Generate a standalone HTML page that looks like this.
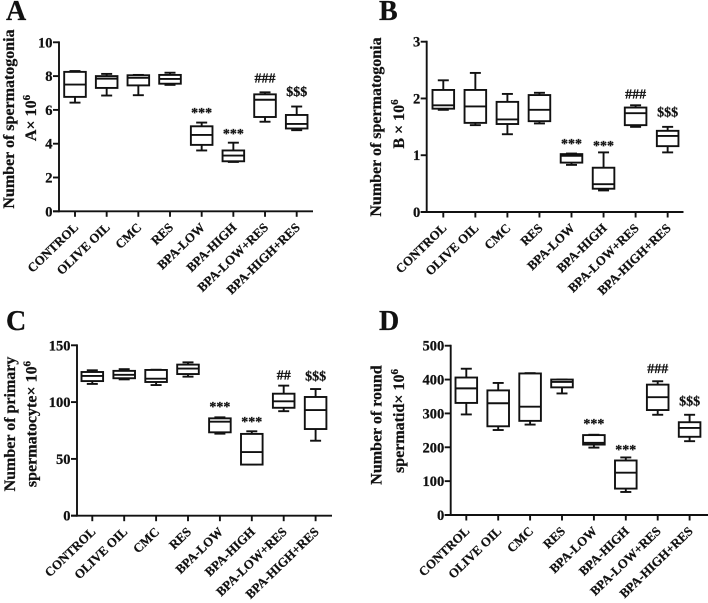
<!DOCTYPE html>
<html lang="en">
<head>
<meta charset="utf-8">
<title>Spermatogenic cell counts</title>
<style>
html,body{margin:0;padding:0;background:#fff;width:708px;height:603px;overflow:hidden}
svg{display:block;filter:blur(0.35px)}
text{font-family:"Liberation Serif",serif;font-weight:bold;fill:#111;stroke:#111;stroke-width:0.25px}
</style>
</head>
<body>
<svg id="figure" xmlns="http://www.w3.org/2000/svg" width="708" height="603" viewBox="0 0 708 603"></svg>
<script>
const categories = ['CONTROL','OLIVE OIL','CMC','RES','BPA-LOW','BPA-HIGH','BPA-LOW+RES','BPA-HIGH+RES'];
const sigLabels = ['','','','','***','***','###','$$$'];
const sigLabelsC = ['','','','','***','***','##','$$$'];

const aTicks = [0,2,4,6,8,10];
const aWhiskerLow = [6.43,6.85,6.87,7.48,3.6,2.92,5.3,4.8];
const aQ1 = [6.77,7.3,7.45,7.55,3.93,2.96,5.58,4.9];
const aMedian = [7.5,7.85,7.9,7.83,4.52,3.3,6.6,5.17];
const aQ3 = [8.25,8.0,8.05,8.07,5.03,3.6,6.92,5.7];
const aWhiskerHigh = [8.3,8.13,8.07,8.2,5.25,4.06,7.04,6.2];
const aSigLevel = [0,0,0,0,5.58,4.34,7.61,6.82];

const bTicks = [0,1,2,3];
const bWhiskerLow = [1.8,1.53,1.37,1.56,0.83,0.38,1.5,1.05];
const bQ1 = [1.82,1.57,1.55,1.6,0.87,0.41,1.53,1.16];
const bMedian = [1.88,1.86,1.63,1.8,0.99,0.49,1.74,1.34];
const bQ3 = [2.15,2.15,1.94,2.06,1.02,0.78,1.84,1.43];
const bWhiskerHigh = [2.32,2.45,2.08,2.1,1.03,1.05,1.88,1.5];
const bSigLevel = [0,0,0,0,1.13,1.09,2.0,1.68];

const cTicks = [0,50,100,150];
const cWhiskerLow = [116,120,115,122.4,72.2,45,92,66];
const cQ1 = [118.5,121,117.7,124.7,73.4,45,95,76.3];
const cMedian = [123,124,120.6,129.5,82.8,56,100.7,93];
const cQ3 = [126.5,127.5,128.3,133,85.7,72,107.4,104.5];
const cWhiskerHigh = [128,129,128.5,135,86.6,74.3,114.5,111.5];
const cSigLevel = [0,0,0,0,92,79,120,119];

const dTicks = [0,100,200,300,400,500];
const dWhiskerLow = [297,251,267,359,199,68,296,218];
const dQ1 = [331,262,278,377,208,78,310,231];
const dMedian = [374,330,320,393,213,125,348,257];
const dQ3 = [406,368,418,400,236,161,385,274];
const dWhiskerHigh = [432,390,419,400,237,170,395,296];
const dSigLevel = [0,0,0,0,257,180,419,324];

const panels = [
  {id:'a',letter:'A',lx:6,ly:20,x0:59,yTop:42.3,yBot:211.3,xEnd:313,cx0:75,step:31.67,max:10,ticks:aTicks,
   lo:aWhiskerLow,q1:aQ1,med:aMedian,q3:aQ3,hi:aWhiskerHigh,sig:aSigLevel,sigText:sigLabels,
   t1:'Number of spermatogonia',t1x:14,t1y:119,t2:'A× 10',t2x:36,t2y:118},
  {id:'b',letter:'B',lx:379,ly:20,x0:426.7,yTop:41.7,yBot:212,xEnd:683.5,cx0:443.3,step:32.05,max:3,ticks:bTicks,
   lo:bWhiskerLow,q1:bQ1,med:bMedian,q3:bQ3,hi:bWhiskerHigh,sig:bSigLevel,sigText:sigLabels,
   t1:'Number of spermatogonia',t1x:381,t1y:127,t2:'B × 10',t2x:404,t2y:124},
  {id:'c',letter:'C',lx:6,ly:330,x0:77,yTop:345.3,yBot:515.7,xEnd:332,cx0:92.3,step:31.9,max:150,ticks:cTicks,
   lo:cWhiskerLow,q1:cQ1,med:cMedian,q3:cQ3,hi:cWhiskerHigh,sig:cSigLevel,sigText:sigLabelsC,
   t1:'Number of primary',t1x:15,t1y:424,t2:'spermatocyte× 10',t2x:36.5,t2y:424},
  {id:'d',letter:'D',lx:379,ly:330,x0:450.7,yTop:345.7,yBot:515,xEnd:708,cx0:466.3,step:31.9,max:500,ticks:dTicks,
   lo:dWhiskerLow,q1:dQ1,med:dMedian,q3:dQ3,hi:dWhiskerHigh,sig:dSigLevel,sigText:sigLabels,
   t1:'Number of round',t1x:381.5,t1y:425,t2:'spermatid× 10',t2x:404,t2y:421}
];

const NS = 'http://www.w3.org/2000/svg';
const svg = document.getElementById('figure');
const INK = '#111';
const SW = 1.9;

function line(parent, x1, y1, x2, y2) {
  const l = document.createElementNS(NS, 'line');
  l.setAttribute('x1', x1);
  l.setAttribute('y1', y1);
  l.setAttribute('x2', x2);
  l.setAttribute('y2', y2);
  l.setAttribute('stroke', INK);
  l.setAttribute('stroke-width', SW);
  parent.appendChild(l);
  return l;
}
function label(parent, x, y, str, size, anchor, transform) {
  const t = document.createElementNS(NS, 'text');
  t.setAttribute('x', x);
  t.setAttribute('y', y);
  t.setAttribute('font-size', size);
  t.setAttribute('text-anchor', anchor);
  if (transform) t.setAttribute('transform', transform);
  t.textContent = str;
  parent.appendChild(t);
  return t;
}
function group(parent) {
  const g = document.createElementNS(NS, 'g');
  parent.appendChild(g);
  return g;
}

panels.forEach(function (p) {
  const yScale = function (v) { return p.yBot - (v / p.max) * (p.yBot - p.yTop); };
  const xScale = function (i) { return p.cx0 + i * p.step; };

  const panel = group(svg);
  
  

  const letter = label(panel, p.lx, p.ly, p.letter, 28, 'start');
  
  

  const yAxis = line(panel, p.x0, p.yTop - 0.9, p.x0, p.yBot + 0.9);
  
  

  const xAxis = line(panel, p.x0 - 6, p.yBot, p.xEnd, p.yBot);
  
  

  p.ticks.forEach(function (v) {
    const y = yScale(v);
    const tick = line(panel, p.x0 - 6, y, p.x0, y);
    
    
    const tl = label(panel, p.x0 - 6.5, y + 5, String(v), 14.5, 'end');
    
    
  });

  const title1 = label(panel, p.t1x, p.t1y, p.t1, 16, 'middle', 'rotate(-90 ' + p.t1x + ' ' + p.t1y + ')');
  
  

  const title2 = label(panel, p.t2x, p.t2y, p.t2, 16, 'middle', 'rotate(-90 ' + p.t2x + ' ' + p.t2y + ')');
  const sup = document.createElementNS(NS, 'tspan');
  sup.setAttribute('dy', '-6');
  sup.setAttribute('font-size', '11');
  sup.textContent = '6';
  title2.appendChild(sup);
  
  

  categories.forEach(function (cat, i) {
    const cx = xScale(i);

    const xt = line(panel, cx, p.yBot, cx, p.yBot + 5.5);
    
    

    const lx = cx + 4;
    const ly = p.yBot + 17;
    const xl = label(panel, lx, ly, cat, 12.8, 'end', 'rotate(-44 ' + lx + ' ' + ly + ')');
    
    

    const g = group(panel);
    
    

    const hw = 10.8, cap = 5.5;
    line(g, cx, yScale(p.hi[i]), cx, yScale(p.q3[i]));
    line(g, cx, yScale(p.q1[i]), cx, yScale(p.lo[i]));
    line(g, cx - cap, yScale(p.hi[i]), cx + cap, yScale(p.hi[i]));
    line(g, cx - cap, yScale(p.lo[i]), cx + cap, yScale(p.lo[i]));

    const r = document.createElementNS(NS, 'rect');
    r.setAttribute('x', cx - hw);
    r.setAttribute('y', yScale(p.q3[i]));
    r.setAttribute('width', hw * 2);
    r.setAttribute('height', yScale(p.q1[i]) - yScale(p.q3[i]));
    r.setAttribute('fill', '#fff');
    r.setAttribute('stroke', INK);
    r.setAttribute('stroke-width', SW);
    g.appendChild(r);

    line(g, cx - hw, yScale(p.med[i]), cx + hw, yScale(p.med[i]));

    if (p.sigText[i]) {
      const s = label(panel, cx, yScale(p.sig[i]), p.sigText[i], 14, 'middle');
      
      
    }
  });
});
</script>
</body>
</html>
